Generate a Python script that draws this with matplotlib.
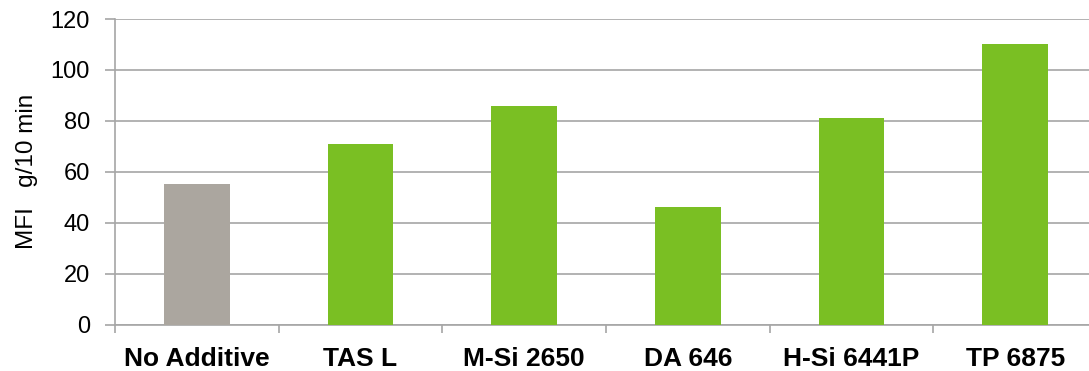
import matplotlib
matplotlib.use("Agg")
import matplotlib.pyplot as plt
import numpy as np

categories = ["No Additive", "TAS L", "M-Si 2650", "DA 646", "H-Si 6441P", "TP 6875"]
values = [55, 71, 86, 46, 81, 110]
bar_colors = ["#ABA69F", "#7ABF23", "#7ABF23", "#7ABF23", "#7ABF23", "#7ABF23"]
yticks = [0, 20, 40, 60, 80, 100, 120]
ylabel = "MFI   g/10 min"

plt.rcParams['font.family'] = ['Liberation Sans', 'DejaVu Sans']

fig = plt.figure(figsize=(10.89, 3.71), dpi=100)
ax = fig.add_axes([115/1089, (371-324.5)/371, (1097-115)/1089, (324.5-19)/371])

x = np.arange(len(categories))
ax.bar(x, values, width=0.4, color=bar_colors, zorder=3)

ax.set_xlim(-0.5, len(categories) - 0.5)
ax.set_ylim(0, 120)
ax.set_yticks(yticks)
ax.yaxis.grid(True, color="#A6A6A6", linewidth=1.2, zorder=0)
ax.set_axisbelow(True)

ax.set_xticks(x)
ax.set_xticklabels(categories, fontsize=19, fontweight="bold")
ax.set_xticks(np.arange(-0.5, len(categories)), minor=True)
ax.tick_params(axis="x", which="major", length=0, pad=16)
ax.tick_params(axis="x", which="minor", length=6, color="#A6A6A6", width=1.2, direction="out")
ax.tick_params(axis="y", length=7, color="#A6A6A6", width=1.2, labelsize=17, pad=11)

for s in ["top", "right"]:
    ax.spines[s].set_visible(False)
ax.spines["left"].set_color("#A6A6A6")
ax.spines["left"].set_linewidth(1.2)
ax.spines["bottom"].set_color("#A6A6A6")
ax.spines["bottom"].set_linewidth(1.2)

ax.set_ylabel(ylabel, fontsize=17.5, labelpad=9)

fig.savefig("out.png", dpi=100)
